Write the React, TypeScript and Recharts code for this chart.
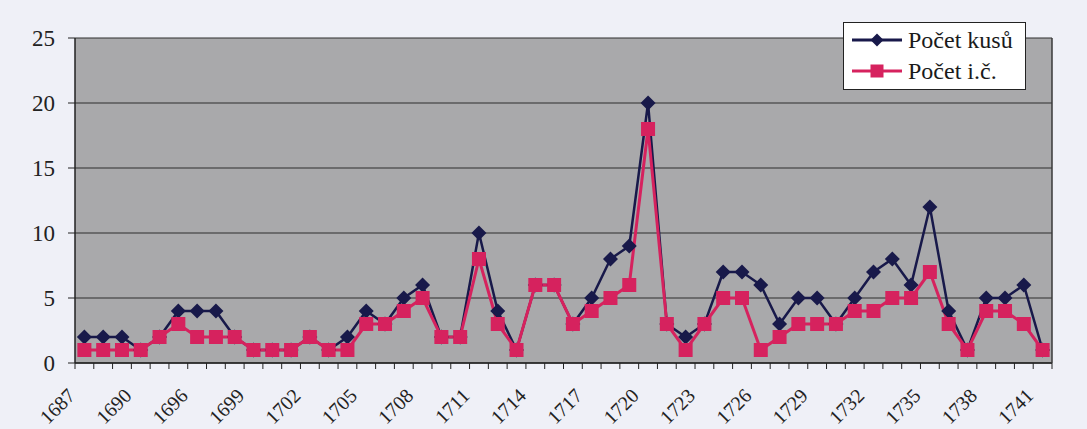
import React from "react";
import { CartesianGrid, Line, LineChart, XAxis, YAxis } from "recharts";

// years on the category axis (every 3rd one gets a label)
const years = [
  "1687", "1688", "1689", "1690", "1693", "1695", "1696", "1697", "1698", "1699",
  "1700", "1701", "1702", "1703", "1704", "1705", "1706", "1707", "1708", "1709",
  "1710", "1711", "1712", "1713", "1714", "1715", "1716", "1717", "1718", "1719",
  "1720", "1721", "1722", "1723", "1724", "1725", "1726", "1727", "1728", "1729",
  "1730", "1731", "1732", "1733", "1734", "1735", "1736", "1737", "1738", "1739",
  "1740", "1741",
];

const pocetKusu = [
  2, 2, 2, 1, 2, 4, 4, 4, 2, 1,
  1, 1, 2, 1, 2, 4, 3, 5, 6, 2,
  2, 10, 4, 1, 6, 6, 3, 5, 8, 9,
  20, 3, 2, 3, 7, 7, 6, 3, 5, 5,
  3, 5, 7, 8, 6, 12, 4, 1, 5, 5,
  6, 1,
];

const pocetIC = [
  1, 1, 1, 1, 2, 3, 2, 2, 2, 1,
  1, 1, 2, 1, 1, 3, 3, 4, 5, 2,
  2, 8, 3, 1, 6, 6, 3, 4, 5, 6,
  18, 3, 1, 3, 5, 5, 1, 2, 3, 3,
  3, 4, 4, 5, 5, 7, 3, 1, 4, 4,
  3, 1,
];

const yTicks = [0, 5, 10, 15, 20, 25];

const NAVY = "#18194a";
const PINK = "#d6225e";
const FONT = "Liberation Serif";

const data = years.map((year, i) => ({
  year,
  kusu: pocetKusu[i],
  ic: pocetIC[i],
}));

const W = 1087;
const H = 429;
const margin = { top: 38, right: 0, bottom: 0, left: 0 };
const yAxisWidth = 75;
const rightAxisWidth = 35;
const plotWidth = W - margin.left - margin.right - yAxisWidth - rightAxisWidth;
const step = plotWidth / years.length;

const Diamond = (props: any) => {
  const { cx, cy } = props;
  if (cx == null || cy == null) return null;
  const r = 7.5;
  return (
    <polygon
      points={`${cx},${cy - r} ${cx + r},${cy} ${cx},${cy + r} ${cx - r},${cy}`}
      fill={NAVY}
    />
  );
};

const Square = (props: any) => {
  const { cx, cy } = props;
  if (cx == null || cy == null) return null;
  const s = 14;
  return <rect x={cx - s / 2} y={cy - s / 2} width={s} height={s} fill={PINK} />;
};

const XTick = (props: any) => {
  const { x, y, index, payload } = props;
  const last = index === years.length - 1;
  return (
    <g>
      <line x1={x - step / 2} x2={x - step / 2} y1={y} y2={y + 6} stroke="#222" />
      {last && <line x1={x + step / 2} x2={x + step / 2} y1={y} y2={y + 6} stroke="#222" />}
      {index % 3 === 0 && (
        <text
          x={x - 8}
          y={y + 34}
          textAnchor="end"
          transform={`rotate(-45 ${x - 8} ${y + 34})`}
          style={{ fontFamily: FONT, fontSize: 20 }}
          fill="#222"
        >
          {payload.value}
        </text>
      )}
    </g>
  );
};

const YTick = (props: any) => {
  const { x, y, payload } = props;
  return (
    <text
      x={x}
      y={y}
      dy="0.35em"
      textAnchor="end"
      style={{ fontFamily: FONT, fontSize: 23 }}
      fill="#222"
    >
      {payload.value}
    </text>
  );
};

const LegendBox = () => (
  <div
    style={{
      position: "absolute",
      left: 843,
      top: 22,
      width: 181,
      height: 66,
      background: "#ffffff",
      border: "1px solid #222",
      fontFamily: FONT,
      fontSize: 24,
      color: "#1a1a1a",
    }}
  >
    {[
      { name: "Počet kusů", color: NAVY, shape: "diamond" },
      { name: "Počet i.č.", color: PINK, shape: "square" },
    ].map((item, i) => (
      <div
        key={item.name}
        style={{ position: "absolute", left: 6, top: 2 + i * 31, height: 30, display: "flex", alignItems: "center", whiteSpace: "nowrap" }}
      >
        <svg width={54} height={30}>
          <line x1={2} x2={52} y1={15} y2={15} stroke={item.color} strokeWidth={3} />
          {item.shape === "diamond" ? (
            <polygon points="27,8.5 33.5,15 27,21.5 20.5,15" fill={item.color} />
          ) : (
            <rect x={20.5} y={8.5} width={13} height={13} fill={item.color} />
          )}
        </svg>
        <span style={{ marginLeft: 4, lineHeight: "30px" }}>{item.name}</span>
      </div>
    ))}
  </div>
);

export default function App() {
  return (
    <div
      style={{
        position: "absolute",
        left: 0,
        top: 0,
        width: W,
        height: H,
        background: "#eff0f7",
        overflow: "hidden",
        fontFamily: FONT,
      }}
    >
      <LineChart width={W} height={H} data={data} margin={margin}>
        <CartesianGrid
          vertical={false}
          stroke="#2e2e2e"
          strokeWidth={1.2}
          fill="#a9a9ab"
          fillOpacity={1}
        />
        <XAxis
          dataKey="year"
          interval={0}
          height={66}
          tickSize={0}
          tickMargin={0}
          tickLine={false}
          tick={<XTick />}
          axisLine={{ stroke: "#222", strokeWidth: 1.5 }}
          padding={{ left: step / 2, right: step / 2 }}
        />
        <YAxis
          domain={[0, 25]}
          ticks={yTicks}
          width={yAxisWidth}
          tickSize={7}
          tickMargin={13}
          tick={<YTick />}
          tickLine={{ stroke: "#222" }}
          axisLine={{ stroke: "#222", strokeWidth: 1.5 }}
        />
        <YAxis
          yAxisId="right"
          orientation="right"
          domain={[0, 25]}
          width={rightAxisWidth}
          tick={false}
          tickLine={false}
          axisLine={{ stroke: "#3a3a3a", strokeWidth: 1.5 }}
        />
        <Line
          dataKey="kusu"
          name="Počet kusů"
          stroke={NAVY}
          strokeWidth={2.5}
          dot={<Diamond />}
          activeDot={false}
          isAnimationActive={false}
        />
        <Line
          dataKey="ic"
          name="Počet i.č."
          stroke={PINK}
          strokeWidth={3}
          dot={<Square />}
          activeDot={false}
          isAnimationActive={false}
        />
      </LineChart>
      <LegendBox />
    </div>
  );
}
